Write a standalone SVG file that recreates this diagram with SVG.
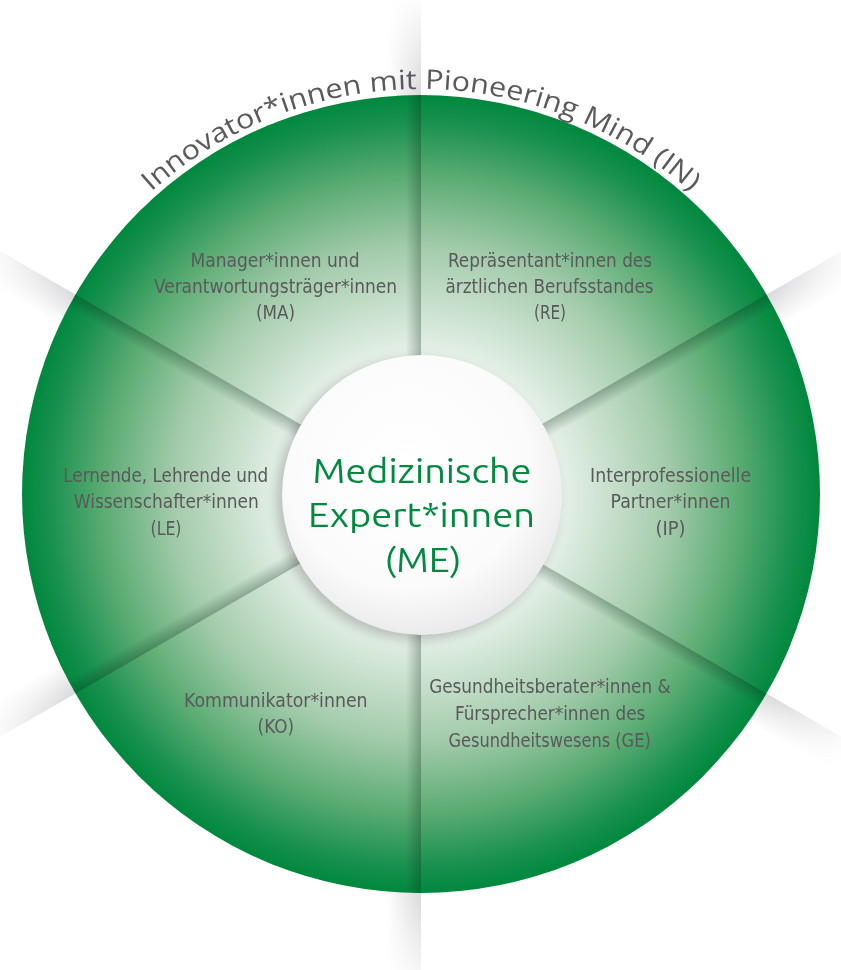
<svg xmlns="http://www.w3.org/2000/svg" xmlns:xlink="http://www.w3.org/1999/xlink" width="841" height="970" viewBox="0 0 841 970">
<style>
.lbl{font-family:"Ubuntu Condensed","Liberation Sans Narrow","DejaVu Sans Condensed","Roboto Condensed","Liberation Sans",sans-serif;font-stretch:condensed;font-size:20px;fill:#59595b;text-anchor:middle}
.ctr{font-family:"Ubuntu","Open Sans","Liberation Sans",sans-serif;font-size:33px;fill:#00893f;text-anchor:middle}
.ttl{font-family:"Open Sans","Liberation Sans",sans-serif;font-weight:400;font-size:27px;fill:#5a5a5c;text-anchor:middle}
</style>
<defs>
  <radialGradient id="gGreen" gradientUnits="userSpaceOnUse" cx="421" cy="494" r="399">
    <stop offset="0" stop-color="#ffffff"/>
    <stop offset="0.32" stop-color="#eef5f0"/>
    <stop offset="0.43" stop-color="#d3e6d7"/>
    <stop offset="0.62" stop-color="#a3cbab"/>
    <stop offset="0.8" stop-color="#5aab72"/>
    <stop offset="0.93" stop-color="#1a9150"/>
    <stop offset="1" stop-color="#00883d"/>
  </radialGradient>
  <radialGradient id="gCore" cx="0.45" cy="0.4" r="0.62">
    <stop offset="0" stop-color="#ffffff"/>
    <stop offset="0.7" stop-color="#fbfbfb"/>
    <stop offset="1" stop-color="#e9e9eb"/>
  </radialGradient>
  <linearGradient id="shA" x1="0" y1="0" x2="0" y2="1">
    <stop offset="0" stop-color="#0a2a18" stop-opacity="0.3"/>
    <stop offset="1" stop-color="#0a2a18" stop-opacity="0"/>
  </linearGradient>
  <linearGradient id="shB" x1="0" y1="0" x2="0" y2="1">
    <stop offset="0" stop-color="#0a2a18" stop-opacity="0"/>
    <stop offset="1" stop-color="#0a2a18" stop-opacity="0.3"/>
  </linearGradient>
  <linearGradient id="stA" x1="0" y1="0" x2="0" y2="1">
    <stop offset="0" stop-color="#8c8c94" stop-opacity="0.35"/>
    <stop offset="1" stop-color="#8c8c94" stop-opacity="0"/>
  </linearGradient>
  <linearGradient id="stB" x1="0" y1="0" x2="0" y2="1">
    <stop offset="0" stop-color="#8c8c94" stop-opacity="0"/>
    <stop offset="1" stop-color="#8c8c94" stop-opacity="0.35"/>
  </linearGradient>
  <radialGradient id="fade" gradientUnits="userSpaceOnUse" cx="421" cy="494" r="500">
    <stop offset="0.79" stop-color="#fff"/>
    <stop offset="1" stop-color="#000"/>
  </radialGradient>
  <mask id="mFade" maskUnits="userSpaceOnUse" x="0" y="0" width="841" height="970">
    <rect x="0" y="0" width="841" height="970" fill="url(#fade)"/>
  </mask>
  <clipPath id="cIn"><circle cx="421" cy="494" r="399"/></clipPath>
  <filter id="blur" x="-20%" y="-20%" width="140%" height="140%"><feGaussianBlur stdDeviation="6"/></filter>
  <path id="arc" d="M134.6,207.6 A405,405 0 0 1 707.4,207.6"/>
</defs>

<g id="outer-streaks" mask="url(#mFade)">
  <rect transform="translate(421,494) rotate(-90)" x="380" y="-34" width="200" height="34" fill="url(#stB)"/>
  <rect transform="translate(421,494) rotate(-30)" x="380" y="0" width="200" height="34" fill="url(#stA)"/>
  <rect transform="translate(421,494) rotate(30)" x="380" y="0" width="200" height="34" fill="url(#stA)"/>
  <rect transform="translate(421,494) rotate(90)" x="380" y="0" width="200" height="34" fill="url(#stA)"/>
  <rect transform="translate(421,494) rotate(150)" x="380" y="0" width="200" height="34" fill="url(#stA)"/>
  <rect transform="translate(421,494) rotate(210)" x="380" y="-34" width="200" height="34" fill="url(#stB)"/>
</g>

<g id="wheel">
  <circle cx="421" cy="494" r="399" fill="url(#gGreen)"/>
</g>

<g id="spokes" clip-path="url(#cIn)">
  <rect transform="translate(421,494) rotate(-90)" x="120" y="-15" width="290" height="15" fill="url(#shB)"/>
  <rect transform="translate(421,494) rotate(-30)" x="120" y="0" width="290" height="15" fill="url(#shA)"/>
  <rect transform="translate(421,494) rotate(30)" x="120" y="0" width="290" height="15" fill="url(#shA)"/>
  <rect transform="translate(421,494) rotate(90)" x="120" y="0" width="290" height="15" fill="url(#shA)"/>
  <rect transform="translate(421,494) rotate(150)" x="120" y="0" width="290" height="15" fill="url(#shA)"/>
  <rect transform="translate(421,494) rotate(210)" x="120" y="-15" width="290" height="15" fill="url(#shB)"/>
</g>

<g id="node-ME">
  <circle cx="417" cy="499" r="140" fill="#000" opacity="0.22" filter="url(#blur)"/>
  <circle cx="422" cy="495" r="140" fill="url(#gCore)"/>
  <text class="ctr"><tspan x="422" y="483" textLength="219" lengthAdjust="spacingAndGlyphs">Medizinische</tspan><tspan x="421.5" y="527" textLength="227" lengthAdjust="spacingAndGlyphs">Expert*innen</tspan><tspan x="423" y="572" textLength="77" lengthAdjust="spacingAndGlyphs">(ME)</tspan></text>
</g>

<g id="node-IN">
  <text class="ttl"><textPath href="#arc" xlink:href="#arc" startOffset="50%" textLength="590" lengthAdjust="spacingAndGlyphs">Innovator*innen mit Pioneering Mind (IN)</textPath></text>
</g>

<g id="node-MA">
  <text class="lbl"><tspan x="275" y="267" textLength="169" lengthAdjust="spacingAndGlyphs">Manager*innen und</tspan><tspan x="275.5" y="293" textLength="243" lengthAdjust="spacingAndGlyphs">Verantwortungsträger*innen</tspan><tspan x="275.5" y="319" textLength="39" lengthAdjust="spacingAndGlyphs">(MA)</tspan></text>
</g>

<g id="node-RE">
  <text class="lbl"><tspan x="550" y="267" textLength="204" lengthAdjust="spacingAndGlyphs">Repräsentant*innen des</tspan><tspan x="549.5" y="293" textLength="208" lengthAdjust="spacingAndGlyphs">ärztlichen Berufsstandes</tspan><tspan x="550" y="319" textLength="32" lengthAdjust="spacingAndGlyphs">(RE)</tspan></text>
</g>

<g id="node-LE">
  <text class="lbl"><tspan x="165.8" y="481.5" textLength="205" lengthAdjust="spacingAndGlyphs">Lernende, Lehrende und</tspan><tspan x="166.3" y="508" textLength="185" lengthAdjust="spacingAndGlyphs">Wissenschafter*innen</tspan><tspan x="166" y="534.5" textLength="31" lengthAdjust="spacingAndGlyphs">(LE)</tspan></text>
</g>

<g id="node-IP">
  <text class="lbl"><tspan x="670.6" y="481.5" textLength="161" lengthAdjust="spacingAndGlyphs">Interprofessionelle</tspan><tspan x="670.6" y="508" textLength="120" lengthAdjust="spacingAndGlyphs">Partner*innen</tspan><tspan x="670.6" y="534.5" textLength="30" lengthAdjust="spacingAndGlyphs">(IP)</tspan></text>
</g>

<g id="node-KO">
  <text class="lbl"><tspan x="275.8" y="706.5" textLength="183.5" lengthAdjust="spacingAndGlyphs">Kommunikator*innen</tspan><tspan x="275.8" y="733" textLength="36.5" lengthAdjust="spacingAndGlyphs">(KO)</tspan></text>
</g>

<g id="node-GE">
  <text class="lbl"><tspan x="549.9" y="692.5" textLength="241.4" lengthAdjust="spacingAndGlyphs">Gesundheitsberater*innen &amp;</tspan><tspan x="550.2" y="719.5" textLength="190.4" lengthAdjust="spacingAndGlyphs">Fürsprecher*innen des</tspan><tspan x="549.6" y="746.5" textLength="202.3" lengthAdjust="spacingAndGlyphs">Gesundheitswesens (GE)</tspan></text>
</g>
</svg>
